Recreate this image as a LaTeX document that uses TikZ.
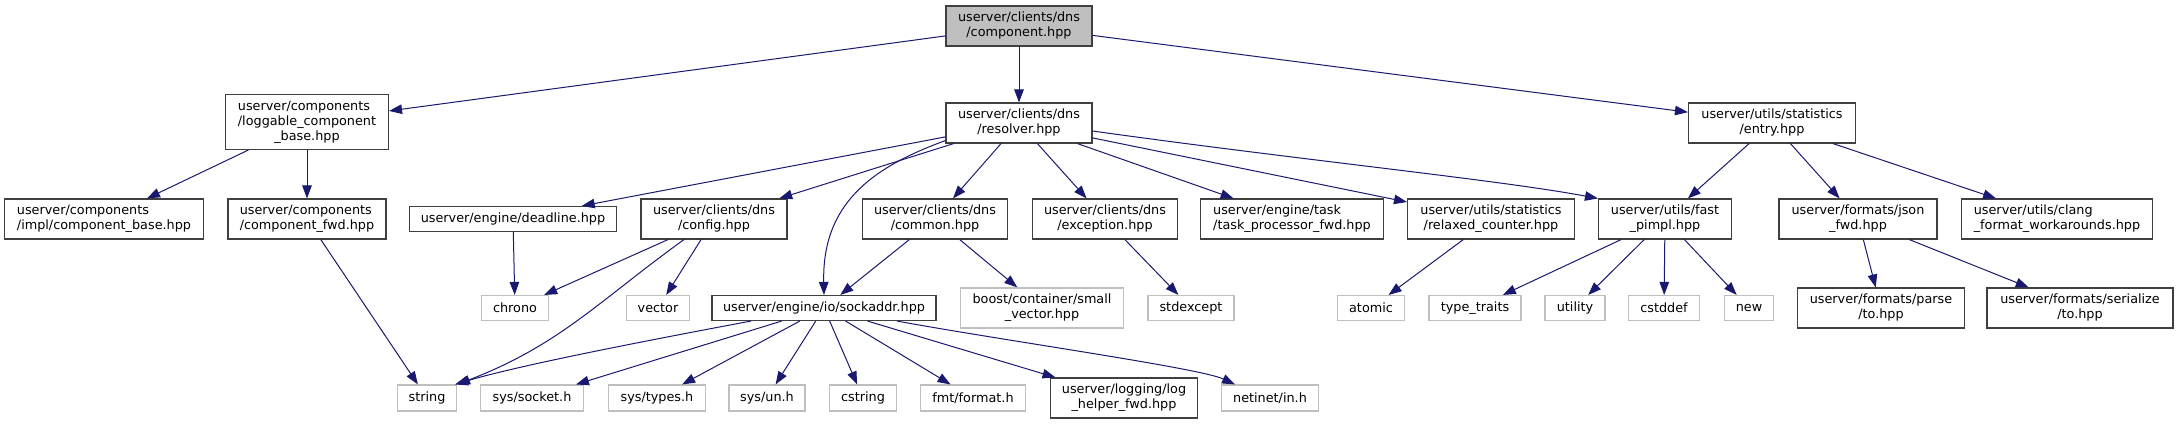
\documentclass[tikz,border=0pt]{standalone}
\usepackage{fontspec}
\setmainfont{DejaVu Sans}
\usetikzlibrary{arrows.meta}
\definecolor{edgec}{HTML}{191970}
\definecolor{grayb}{HTML}{BFBFBF}
\definecolor{darkb}{HTML}{404040}
\definecolor{rootf}{HTML}{BFBFBF}
\newcommand{\twol}[2]{\begin{tabular}{@{}l@{}}#1\\\multicolumn{1}{@{}c@{}}{#2}\end{tabular}}
\newcommand{\threel}[3]{\begin{tabular}{@{}l@{}}#1\\#2\\\multicolumn{1}{@{}c@{}}{#3}\end{tabular}}
\tikzset{
  hdr/.style={draw=darkb, line width=1.1pt, fill=white, inner sep=0pt,
     font=\fontsize{12.8}{15}\selectfont, minimum height=40pt},
  one/.style={minimum height=25pt},
  syshdr/.style={hdr, draw=grayb},
  roothdr/.style={hdr, fill=rootf},
  dep/.style={draw=edgec, line width=1pt, -{Triangle[length=13pt,width=9.5pt]}}
}
\begin{document}
\begin{tikzpicture}[x=1pt,y=-1pt]
\useasboundingbox[fill=white] (0,0) rectangle (2179,424);
% rank 0
\node[roothdr, minimum width=146pt] (comp) at (1019,26) {\twol{userver/clients/dns}{/component.hpp}};
% rank 1
\node[hdr, minimum width=163pt, minimum height=55pt] (log) at (307,122) {\threel{userver/components}{/loggable\_component}{\_base.hpp}};
\node[hdr, minimum width=146pt] (res) at (1019,123) {\twol{userver/clients/dns}{/resolver.hpp}};
\node[hdr, minimum width=167pt] (entry) at (1772,123) {\twol{userver/utils/statistics}{/entry.hpp}};
% rank 2
\node[hdr, minimum width=199pt] (impl) at (104,219) {\twol{userver/components}{/impl/component\_base.hpp}};
\node[hdr, minimum width=158pt] (cfwd) at (307,219) {\twol{userver/components}{/component\_fwd.hpp}};
\node[hdr, one, minimum width=207pt] (dead) at (513,219) {userver/engine/deadline.hpp};
\node[hdr, minimum width=146pt] (conf) at (714,219) {\twol{userver/clients/dns}{/config.hpp}};
\node[hdr, minimum width=145pt] (common) at (935,219) {\twol{userver/clients/dns}{/common.hpp}};
\node[hdr, minimum width=145pt] (exc) at (1105,219) {\twol{userver/clients/dns}{/exception.hpp}};
\node[hdr, minimum width=183pt] (task) at (1292,219) {\twol{userver/engine/task}{/task\_processor\_fwd.hpp}};
\node[hdr, minimum width=167pt] (relax) at (1491,219) {\twol{userver/utils/statistics}{/relaxed\_counter.hpp}};
\node[hdr, minimum width=133pt] (fast) at (1665,219) {\twol{userver/utils/fast}{\_pimpl.hpp}};
\node[hdr, minimum width=158pt] (json) at (1858,219) {\twol{userver/formats/json}{\_fwd.hpp}};
\node[hdr, minimum width=191pt] (clang) at (2057,219) {\twol{userver/utils/clang}{\_format\_workarounds.hpp}};
% rank 3
\node[syshdr, one, minimum width=67pt] (chrono) at (515,308) {chrono};
\node[syshdr, one, minimum width=63pt] (vector) at (658,308) {vector};
\node[hdr, one, minimum width=224pt] (sock) at (824,308) {userver/engine/io/sockaddr.hpp};
\node[syshdr, minimum width=163pt] (small) at (1042,308) {\twol{boost/container/small}{\_vector.hpp}};
\node[syshdr, one, minimum width=86pt] (stdexc) at (1191,308) {stdexcept};
\node[syshdr, one, minimum width=67pt] (atomic) at (1371,308) {atomic};
\node[syshdr, one, minimum width=92pt] (tt) at (1475,308) {type\_traits};
\node[syshdr, one, minimum width=60pt] (util) at (1575,308) {utility};
\node[syshdr, one, minimum width=71pt] (cstddef) at (1664,308) {cstddef};
\node[syshdr, one, minimum width=49pt] (new) at (1749,308) {new};
\node[hdr, minimum width=167pt] (parse) at (1881,308) {\twol{userver/formats/parse}{/to.hpp}};
\node[hdr, minimum width=186pt] (ser) at (2080,308) {\twol{userver/formats/serialize}{/to.hpp}};
% rank 4
\node[syshdr, one, minimum width=59pt, minimum height=26pt] (string) at (427,398) {string};
\node[syshdr, one, minimum width=103pt, minimum height=26pt] (socket) at (532,398) {sys/socket.h};
\node[syshdr, one, minimum width=97pt, minimum height=26pt] (types) at (657,398) {sys/types.h};
\node[syshdr, one, minimum width=76pt, minimum height=26pt] (un) at (767,398) {sys/un.h};
\node[syshdr, one, minimum width=67pt, minimum height=26pt] (cstring) at (863,398) {cstring};
\node[syshdr, one, minimum width=105pt, minimum height=26pt] (fmt) at (973,398) {fmt/format.h};
\node[hdr, minimum width=147pt] (loghelp) at (1124,398) {\twol{userver/logging/log}{\_helper\_fwd.hpp}};
\node[syshdr, one, minimum width=97pt, minimum height=26pt] (netinet) at (1270,398) {netinet/in.h};
% edges
\draw[dep] (comp) -- (log);
\draw[dep] (comp) -- (res);
\draw[dep] (comp) -- (entry);
\draw[dep] (log) -- (impl);
\draw[dep] (log) -- (cfwd);
\draw[dep] (cfwd) -- (string);
\draw[dep] (res) -- (dead);
\draw[dep] (res) -- (conf);
\draw[dep] ([yshift=3pt]res.south west) .. controls (870,168) and (822,205) .. (sock.north);
\draw[dep] (res) -- (common);
\draw[dep] (res) -- (exc);
\draw[dep] (res) -- (task);
\draw[dep] (res) -- (relax);
\draw[dep] ([yshift=-8pt]res.east) .. controls (1300,160) and (1500,180) .. (fast.north west);
\draw[dep] (entry) -- (fast);
\draw[dep] (entry) -- (json);
\draw[dep] (entry) -- (clang);
\draw[dep] (dead) -- (chrono);
\draw[dep] (conf) -- (chrono);
\draw[dep] ([xshift=-30pt]conf.south) .. controls (600,300) and (560,345) .. (string.north east);
\draw[dep] (conf) -- (vector);
\draw[dep] (common) -- (sock);
\draw[dep] (common) -- (small);
\draw[dep] (exc) -- (stdexc);
\draw[dep] (relax) -- (atomic);
\draw[dep] (fast) -- (tt);
\draw[dep] (fast) -- (util);
\draw[dep] (fast) -- (cstddef);
\draw[dep] (fast) -- (new);
\draw[dep] (json) -- (parse);
\draw[dep] (json) -- (ser);
\draw[dep] ([xshift=-73pt]sock.south) .. controls (650,340) and (520,365) .. ([xshift=-2pt]string.north east);
\draw[dep] (sock) -- (socket);
\draw[dep] (sock) -- (types);
\draw[dep] (sock) -- (un);
\draw[dep] (sock) -- (cstring);
\draw[dep] (sock) -- (fmt);
\draw[dep] (sock) -- (loghelp);
\draw[dep] ([xshift=73pt]sock.south) .. controls (1000,340) and (1200,368) .. ([xshift=-35pt]netinet.north);
\end{tikzpicture}
\end{document}
